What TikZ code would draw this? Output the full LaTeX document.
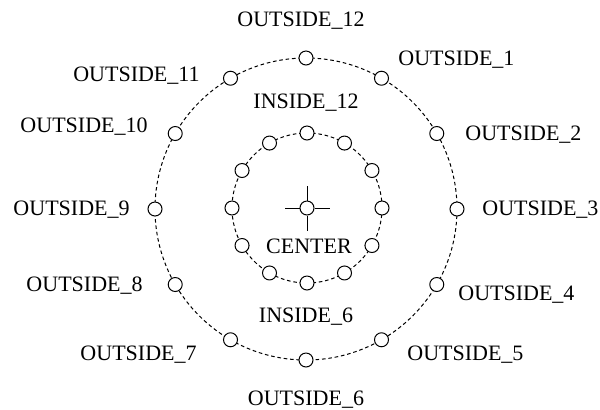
\documentclass[tikz,border=0pt]{standalone}
\usepackage{fontspec}
\setmainfont{Liberation Serif}
\usetikzlibrary{positioning}

\begin{document}
\begin{tikzpicture}[x=0.5pt, y=-0.5pt,
  port/.style={circle, draw, fill=white, line width=0.5pt, inner sep=0pt, minimum size=7pt},
  ring/.style={line width=0.5pt, dash pattern=on 1.8pt off 1.4pt},
  lbl/.style={inner sep=0pt, font=\fontsize{11}{13}\selectfont}
]
  \useasboundingbox (0,0) rectangle (600,409);

  % dashed rings
  \draw[ring] (306,209) circle[radius=151];
  \draw[ring] (307,208) circle[radius=75];

  % ports on the rings
  \foreach \i in {1,...,12} {
    \node[port] (o\i) at ([shift={(306,209)}] 30*\i-90:151) {};
    \node[port] (i\i) at ([shift={(307,208)}] 30*\i-90:75) {};
  }

  % center with cross hair
  \node[port] (c) at (307,208) {};
  \draw[line width=0.5pt] (c.west) -- ++(-15,0);
  \draw[line width=0.5pt] (c.east) -- ++(15,0);
  \draw[line width=0.5pt] (c.north) -- ++(0,-15);
  \draw[line width=0.5pt] (c.south) -- ++(0,15);

  % labels
  \node[lbl, anchor=base] (l12) at (301,26) {OUTSIDE\_12};
  \node[lbl, anchor=base west] (l1) at (398,65) {OUTSIDE\_1};
  \node[lbl, anchor=base west] (l2) at (465,140) {OUTSIDE\_2};
  \node[lbl, anchor=base west] (l3) at (482,215) {OUTSIDE\_3};
  \node[lbl, anchor=base west] (l4) at (458,300) {OUTSIDE\_4};
  \node[lbl, anchor=base west] (l5) at (407,360) {OUTSIDE\_5};
  \node[lbl, anchor=base] (l6) at (306,405) {OUTSIDE\_6};
  \node[lbl, anchor=base east] (l7) at (197,360) {OUTSIDE\_7};
  \node[lbl, anchor=base east] (l8) at (143,291) {OUTSIDE\_8};
  \node[lbl, anchor=base east] (l9) at (130,215) {OUTSIDE\_9};
  \node[lbl, anchor=base east] (l10) at (148,132) {OUTSIDE\_10};
  \node[lbl, anchor=base east] (l11) at (200,81) {OUTSIDE\_11};
  \node[lbl, anchor=base] (li12) at (306,108) {INSIDE\_12};
  \node[lbl, anchor=base] (li6) at (306,322) {INSIDE\_6};
  \node[lbl, anchor=base] (lc) at (309,253) {CENTER};
\end{tikzpicture}
\end{document}
